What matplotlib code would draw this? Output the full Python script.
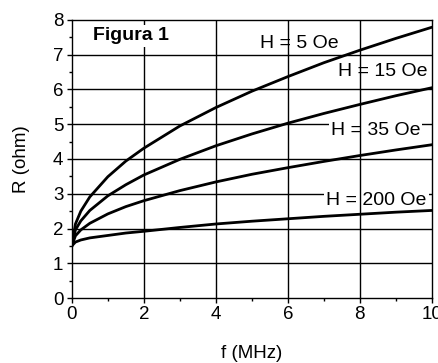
import matplotlib
matplotlib.use("Agg")
import matplotlib.pyplot as plt
from matplotlib.ticker import MultipleLocator

plt.rcParams["font.family"] = ["Liberation Sans", "DejaVu Sans"]

# frequency (MHz) and resistance (ohm)
freq = [0, 0.1, 0.25, 0.5, 1, 1.5, 2, 3, 4, 5, 6, 7, 8, 9, 10]
r_h5 = [1.5, 2.13, 2.5, 2.91, 3.49, 3.94, 4.31, 4.95, 5.48, 5.95, 6.37, 6.77, 7.13, 7.47, 7.79]
r_h15 = [1.5, 1.96, 2.22, 2.52, 2.94, 3.26, 3.54, 3.99, 4.38, 4.72, 5.03, 5.31, 5.57, 5.82, 6.05]
r_h35 = [1.5, 1.79, 1.96, 2.15, 2.42, 2.63, 2.80, 3.09, 3.34, 3.56, 3.75, 3.93, 4.10, 4.26, 4.41]
r_h200 = [1.5, 1.61, 1.67, 1.73, 1.80, 1.87, 1.92, 2.03, 2.13, 2.21, 2.28, 2.35, 2.41, 2.47, 2.52]

series = [r_h5, r_h15, r_h35, r_h200]
labels = ["H = 5 Oe", "H = 15 Oe", "H = 35 Oe", "H = 200 Oe"]
label_pos = [(5.24, 7.32), (7.38, 6.51), (7.19, 4.83), (7.07, 2.82)]

fig = plt.figure(figsize=(4.38, 3.63), dpi=100)
ax = fig.add_axes([0.164, 0.179, 0.822, 0.766])

ax.set_xlim(0, 10)
ax.set_ylim(0, 8)
ax.xaxis.set_major_locator(MultipleLocator(2))
ax.xaxis.set_minor_locator(MultipleLocator(1))
ax.yaxis.set_major_locator(MultipleLocator(1))
ax.yaxis.set_minor_locator(MultipleLocator(0.5))

# horizontal grid under the labels, vertical grid over them
for yv in range(1, 8):
    ax.axhline(yv, color="black", lw=1.0, zorder=1)
for xv in (2, 4, 6, 8):
    ax.axvline(xv, color="black", lw=1.0, zorder=3)

for vals in series:
    ax.plot(freq, vals, color="black", lw=2.0, zorder=5)

for text, (x, y) in zip(labels, label_pos):
    ax.text(x, y, text, fontsize=14, ha="left", va="center",
            bbox=dict(facecolor="white", edgecolor="none", pad=1.5),
            zorder=2, clip_on=True)

ax.text(0.585, 7.54, "Figura 1", fontsize=14, fontweight="bold",
        ha="left", va="center",
        bbox=dict(facecolor="white", edgecolor="none", pad=2), zorder=4)

for s in ax.spines.values():
    s.set_linewidth(1.0)
ax.tick_params(which="major", direction="out", length=3.6, width=1.0,
               labelsize=13.5, pad=2.5)
ax.tick_params(which="minor", direction="out", length=2.2, width=1.0)

ax.set_xlabel("f (MHz)", fontsize=13.5, va="center")
ax.set_ylabel("R (ohm)", fontsize=13.5, va="center")
ax.xaxis.set_label_coords(0.5, -0.198)
ax.yaxis.set_label_coords(-0.139, 0.5)

fig.savefig("out.png", dpi=100)
